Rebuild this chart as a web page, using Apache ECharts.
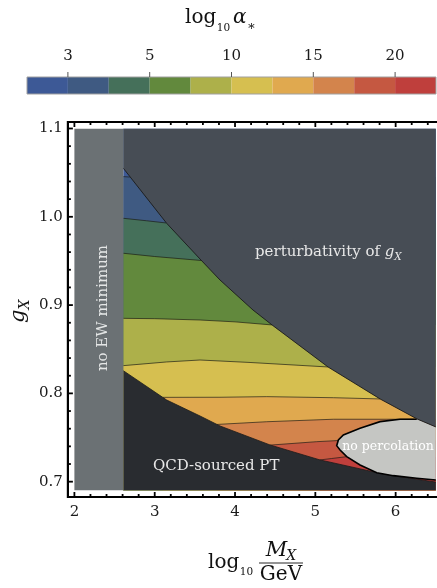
<!DOCTYPE html>
<html><head><meta charset="utf-8">
<script src="https://cdn.jsdelivr.net/npm/echarts@6/dist/echarts.min.js"></script>
<style>html,body{margin:0;padding:0;background:#fff}#c{width:437px;height:588px}</style>
</head><body><div id="c"></div>
<script>
// ================= DATA =================
const xMajorTicks = [2, 3, 4, 5, 6];
const xMinorTicks = [2.2, 2.4, 2.6, 2.8, 3.2, 3.4, 3.6, 3.8, 4.2, 4.4, 4.6, 4.8, 5.2, 5.4, 5.6, 5.8, 6.2, 6.4];
const yMajorTicks = [0.7, 0.8, 0.9, 1.0, 1.1];
const yMinorTicks = [0.72, 0.74, 0.76, 0.78, 0.82, 0.84, 0.86, 0.88, 0.92, 0.94, 0.96, 0.98, 1.02, 1.04, 1.06, 1.08];
const colorbarBands = [0, 1, 2, 3, 4, 5, 6, 7, 8, 9];
const colorbarTickPos = [1, 3, 5, 7, 9];
const colorbarTickLabels = ['3', '5', '10', '15', '20'];

const noEWMinimumEdge = 2.609;
const upperBoundary = [[2.609,1.055],[3.149,0.9926],[3.564,0.9522],[3.813,0.9284],[4.224,0.8944],[4.461,0.8775],[5.158,0.8299],[5.806,0.7937],[6.267,0.7710],[6.5,0.7620]];
const lowerBoundary = [[2.609,0.8257],[3.149,0.7925],[3.564,0.7744],[3.813,0.7631],[4.436,0.7416],[5.059,0.7246],[5.769,0.7102],[6.055,0.7057],[6.466,0.7000],[6.5,0.6995]];
const contour1 = [[2.609,1.0455],[2.691,1.0450]];
const contour2 = [[2.609,0.9983],[2.9,0.9955],[3.143,0.9930]];
const contour3 = [[2.609,0.9587],[3.0,0.9550],[3.58,0.9505]];
const contour4 = [[2.609,0.8850],[3.0,0.8846],[3.564,0.8831],[4.0,0.8810],[4.46,0.8775]];
const contour5 = [[2.609,0.8314],[3.149,0.8356],[3.564,0.8378],[4.187,0.8350],[5.158,0.8299]];
const contour6 = [[3.10,0.7955],[3.813,0.7956],[4.395,0.7963],[5.224,0.7951],[5.806,0.7937]];
const contour7 = [[3.77,0.7648],[4.395,0.7679],[5.224,0.7707],[6.263,0.7707]];
const contour8 = [[4.436,0.7414],[5.017,0.7453],[5.29,0.7466]];
const contour9 = [[5.055,0.7246],[5.2,0.7262],[5.39,0.7283]];
const contours = [contour1, contour2, contour3, contour4, contour5, contour6, contour7, contour8, contour9];
const noPercolation = [[6.263,0.7707],[6.055,0.7707],[5.806,0.7680],[5.557,0.7605],[5.349,0.7529],[5.287,0.7472],[5.266,0.7408],[5.308,0.7359],[5.391,0.7283],[5.557,0.7189],[5.765,0.7102],[5.971,0.7068],[6.263,0.7039],[6.5,0.7019]];

// ================= STYLE / LAYOUT =================
const X_MIN = 2, X_MAX = 6.5, Y_MIN = 0.69, Y_MAX = 1.1;
const bandColors = ['#3d5996','#3f5a82','#45705a','#62893d','#adb04a','#d6bf50','#e0a94f','#d3844c','#c55841','#bf3f3c'];
const C_PERT = '#474d55', C_QCD = '#292c30', C_EW = '#6b7174', C_NOPERC = '#c5c6c3';
const FONT = "'DejaVu Serif','Liberation Serif',serif";
const G = {left: 74.4, top: 128.5, width: 361.4, height: 362};
const PAD = 6.5;
const MID = 0.346; // canvas 'middle' offset above baseline (em)

const mctx = document.createElement('canvas').getContext('2d');
function fontStr(size, italic) { return (italic ? 'italic ' : '') + size + 'px ' + FONT; }
function measure(s, size, italic) { mctx.font = fontStr(size, italic); return mctx.measureText(s).width; }

function poly(points, style, z) {
  return {type:'custom', coordinateSystem:'cartesian2d', xAxisIndex:0, yAxisIndex:0, clip:true, silent:true, z:z,
    data:[0], renderItem:(p, api) => ({type:'polygon', shape:{points: points.map(q => api.coord(q))}, style: style})};
}
function line(points, style, z) {
  return {type:'custom', coordinateSystem:'cartesian2d', xAxisIndex:0, yAxisIndex:0, clip:true, silent:true, z:z,
    data:[0], renderItem:(p, api) => ({type:'polyline', shape:{points: points.map(q => api.coord(q))}, style: Object.assign({fill:null}, style)})};
}
function ticks(values, side, len) {
  return {type:'custom', coordinateSystem:'cartesian2d', xAxisIndex:0, yAxisIndex:0, clip:false, silent:true, z:60,
    data: values, renderItem:(p, api) => {
      const v = api.value(0);
      let a, b;
      if (side === 'bottom') { const c = api.coord([v, Y_MIN]); a = [c[0], c[1]+PAD]; b = [c[0], c[1]+PAD-len]; }
      else if (side === 'top') { const c = api.coord([v, Y_MAX]); a = [c[0], c[1]-PAD]; b = [c[0], c[1]-PAD+len]; }
      else { const c = api.coord([X_MIN, v]); a = [c[0]-PAD, c[1]]; b = [c[0]-PAD+len, c[1]]; }
      return {type:'line', shape:{x1:a[0], y1:a[1], x2:b[0], y2:b[1]}, style:{stroke:'#000', lineWidth:1.8}};
    }};
}

const series = [];
series.push(poly([[noEWMinimumEdge,Y_MIN],[X_MAX,Y_MIN],[X_MAX,Y_MAX],[noEWMinimumEdge,Y_MAX]], {fill: bandColors[0]}, 1));
contours.forEach((c, i) => {
  const last = c[c.length-1], first = c[0];
  const pts = c.concat([[X_MAX,last[1]],[X_MAX,Y_MIN],[first[0],Y_MIN]]);
  series.push(poly(pts, {fill: bandColors[i+1]}, 2+i));
});
contours.forEach((c) => series.push(line(c, {stroke:'rgba(25,25,20,0.75)', lineWidth:0.9}, 20)));
series.push(poly(lowerBoundary.concat([[X_MAX,Y_MIN],[noEWMinimumEdge,Y_MIN]]), {fill:C_QCD}, 30));
series.push(line(lowerBoundary, {stroke:'#1a1a1a', lineWidth:0.8}, 31));
const npPoly = noPercolation.concat(upperBoundary.filter(p => p[0] > noPercolation[0][0]).reverse());
series.push(poly(npPoly, {fill:C_NOPERC}, 32));
series.push(line(noPercolation, {stroke:'#000', lineWidth:1.6}, 33));
series.push(poly(upperBoundary.concat([[X_MAX,Y_MAX],[noEWMinimumEdge,Y_MAX]]), {fill:C_PERT}, 34));
series.push(line(upperBoundary, {stroke:'#1a1a1a', lineWidth:0.9}, 35));
series.push(poly([[X_MIN,Y_MIN],[noEWMinimumEdge,Y_MIN],[noEWMinimumEdge,Y_MAX],[X_MIN,Y_MAX]], {fill:C_EW}, 36));
series.push(ticks(xMajorTicks, 'bottom', 5), ticks(xMinorTicks, 'bottom', 3),
            ticks(xMajorTicks, 'top', 5), ticks(xMinorTicks, 'top', 3),
            ticks(yMajorTicks, 'left', 5), ticks(yMinorTicks, 'left', 3));

// colorbar
series.push({type:'custom', coordinateSystem:'cartesian2d', xAxisIndex:1, yAxisIndex:1, silent:true, z:5,
  data: colorbarBands.map(b => [b, b+1]),
  renderItem:(p, api) => {
    const a = api.coord([api.value(0), 1]), b = api.coord([api.value(1), 0]);
    return {type:'rect', shape:{x:a[0], y:a[1], width:b[0]-a[0], height:b[1]-a[1]}, style:{fill: bandColors[p.dataIndex]}};
  }});
series.push({type:'custom', coordinateSystem:'cartesian2d', xAxisIndex:1, yAxisIndex:1, silent:true, z:6,
  data:[0], renderItem:(p, api) => {
    const a = api.coord([colorbarBands[0], 1]), b = api.coord([colorbarBands[colorbarBands.length-1]+1, 0]);
    return {type:'rect', shape:{x:a[0], y:a[1], width:b[0]-a[0], height:b[1]-a[1]}, style:{fill:null, stroke:'#a0a0a0', lineWidth:1}};
  }});
series.push({type:'custom', coordinateSystem:'cartesian2d', xAxisIndex:1, yAxisIndex:1, silent:true, clip:false, z:6,
  data: colorbarTickPos, renderItem:(p, api) => {
    const c = api.coord([api.value(0), 1]);
    return {type:'line', shape:{x1:c[0], y1:c[1], x2:c[0], y2:c[1]-5}, style:{stroke:'#555', lineWidth:1}};
  }});

const labelStyle = {fontFamily: FONT, fontSize: 15, color:'#1a1a1a'};

function txt(x, base, s, size, opt) {
  opt = opt || {};
  return {type:'text', x:x, y:base - MID*size, silent:true, z:100,
    style:{text:s, font: fontStr(size, opt.italic), fill: opt.fill || '#111', textAlign: opt.align || 'left', textVerticalAlign:'middle'}};
}
function seq(x, base, pieces, fill) {
  const out = [];
  pieces.forEach(pc => {
    x += (pc.gap || 0);
    out.push(txt(x, base + (pc.dy || 0), pc.s, pc.size, {italic: pc.italic, fill: fill}));
    x += measure(pc.s, pc.size, pc.italic);
  });
  return out;
}
function seqWidth(pieces) { return pieces.reduce((w, pc) => w + (pc.gap || 0) + measure(pc.s, pc.size, pc.italic), 0); }

const cbTitle = [{s:'log', size:20}, {s:'10', size:10.5, dy:6.5, gap:0.5}, {s:'α', size:20, italic:true, gap:3}, {s:'∗', size:13, dy:6, gap:0.5}];
const mxPieces = [{s:'M', size:21, italic:true}, {s:'X', size:14, italic:true, dy:3.5, gap:-1}];
const gxPieces = [{s:'g', size:21, italic:true}, {s:'X', size:14, italic:true, dy:4, gap:0}];
const pertPieces = [{s:'perturbativity of ', size:15}, {s:'g', size:15, italic:true}, {s:'X', size:10.5, italic:true, dy:3, gap:0}];

const graphics = [].concat(
  [{type:'rect', z:100, silent:true, shape:{x:G.left-PAD, y:G.top-PAD, width:G.width+2*PAD, height:G.height+2*PAD}, style:{fill:null, stroke:'#000', lineWidth:2.2}}],
  seq(185, 25, cbTitle),
  seq(208, 570, [{s:'log', size:20}, {s:'10', size:10.5, dy:6, gap:0.5}]),
  seq(281 - seqWidth(mxPieces)/2, 558, mxPieces),
  [{type:'line', z:100, silent:true, shape:{x1:259, y1:563, x2:303, y2:563}, style:{stroke:'#111', lineWidth:0.9}}],
  [txt(281, 582, 'GeV', 20, {align:'center'})],
  [{type:'group', x:26, y:323, rotation:Math.PI/2, z:100, children: seq(0, 0, gxPieces)}],
  [Object.assign(txt(103, 308, 'no EW minimum', 15, {align:'center', fill:'#e4e6e6'}), {x:103, y:308, rotation:Math.PI/2})],
  seq(255, 257.5, pertPieces, '#e8e8e8'),
  seq(153, 471.5, [{s:'QCD-sourced PT', size:15}], '#e8e8e8'),
  [txt(388, 451.5, 'no percolation', 12.5, {align:'center', fill:'#ffffff'})]
);

const option = {
  animation:false,
  backgroundColor:'#ffffff',
  grid:[
    Object.assign({containLabel:false, outerBoundsMode:'none'}, G),
    {left:27, top:77, width:409, height:17, containLabel:false, outerBoundsMode:'none'}
  ],
  xAxis:[
    {gridIndex:0, type:'value', min:X_MIN, max:X_MAX, position:'bottom', offset:PAD,
      axisLine:{show:false}, axisTick:{show:false}, splitLine:{show:false},
      axisLabel:Object.assign({show:true, margin:8, customValues:xMajorTicks, formatter: v => String(v)}, labelStyle)},
    {gridIndex:1, type:'value', min:0, max:10, position:'top',
      axisLine:{show:false}, axisTick:{show:false}, splitLine:{show:false},
      axisLabel:Object.assign({show:true, margin:13, customValues:colorbarTickPos, formatter: v => colorbarTickLabels[colorbarTickPos.indexOf(v)]}, labelStyle)}
  ],
  yAxis:[
    {gridIndex:0, type:'value', min:Y_MIN, max:Y_MAX, position:'left', offset:PAD,
      axisLine:{show:false}, axisTick:{show:false}, splitLine:{show:false},
      axisLabel:Object.assign({show:true, margin:5, customValues:yMajorTicks, formatter: v => v.toFixed(1)}, labelStyle)},
    {gridIndex:1, type:'value', min:0, max:1, show:false}
  ],
  graphic: graphics,
  series: series
};
const chart = echarts.init(document.getElementById('c'), null, {renderer:'canvas', width:437, height:588});
chart.setOption(option);
</script>
</body></html>
